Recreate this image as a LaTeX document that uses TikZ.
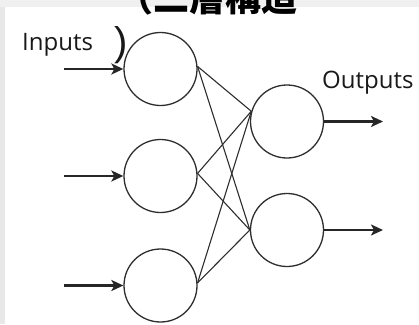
\documentclass[tikz,border=0pt]{standalone}
\usepackage{fontspec}
\setmainfont{Open Sans}
\newfontfamily\cjk{Noto Sans CJK JP}
\newfontfamily\parenfont{Liberation Sans}
\usetikzlibrary{arrows.meta}
\definecolor{stroke}{HTML}{2E2E2E}
\tikzset{
  neuron/.style={circle, draw=stroke, line width=1.3pt, minimum size=73pt, inner sep=0pt},
  link/.style={draw=stroke, line width=1.1pt},
  signal/.style={draw=black!85, line width=2.8pt,
    -{Stealth[length=12pt, width=11pt, inset=3pt]}},
  label/.style={font=\fontsize{24}{24}\selectfont, text=black!90, inner sep=0pt, anchor=base west}
}
\begin{document}
\begin{tikzpicture}[x=1pt, y=-1pt]
  \useasboundingbox (0,0) rectangle (419,324);
  % page frame
  \fill[black!9] (0,0) rectangle (419,324);
  \fill[black!6] (0,0) rectangle (419,7);
  \fill[white] (5,7) rectangle (419,324);

  % heading (runs off the top edge)
  \node[inner sep=0pt, anchor=base west, font=\cjk\bfseries\fontsize{36}{36}\selectfont] (title) at (117,11) {（二層構造};
  \node[inner sep=0pt, anchor=base, font=\parenfont\fontsize{40}{40}\selectfont, text=black!90] (close) at (121,55) {)};

  % input layer
  \node[neuron] (i1) at (160.5,69) {};
  \node[neuron] (i2) at (160.5,176) {};
  \node[neuron] (i3) at (160.5,285.5) {};
  % output layer
  \node[neuron] (o1) at (287,121.5) {};
  \node[neuron] (o2) at (287,230) {};

  % free ends of the signal arrows
  \coordinate (s1) at (64,69);
  \coordinate (s2) at (64,176);
  \coordinate (s3) at (64,285.5);
  \coordinate (t1) at (383,121.5);
  \coordinate (t2) at (383,230);

  \draw[signal] (s1) -- (i1.west);
  \draw[signal] (s2) -- (i2.west);
  \draw[signal] (s3) -- (i3.west);
  \draw[signal] (o1.east) -- (t1);
  \draw[signal] (o2.east) -- (t2);

  % full connections
  \foreach \i in {i1,i2,i3}{
    \draw[link] (\i.4) -- (o1.164);
    \draw[link] (\i.4) -- (o2.west);
  }

  \node[label] (inlab) at (22,50) {Inputs};
  \node[label] (outlab) at (322,88) {Outputs};
\end{tikzpicture}
\end{document}
